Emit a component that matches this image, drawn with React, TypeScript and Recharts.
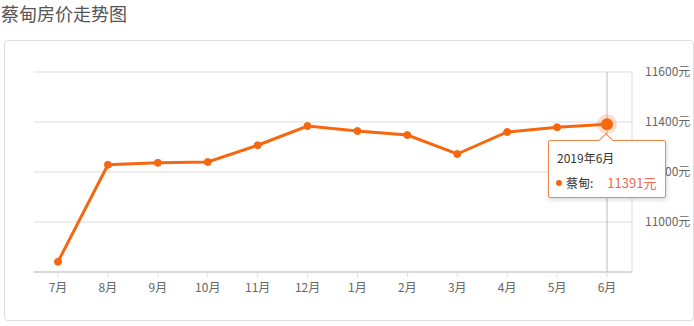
import { CartesianGrid, Line, LineChart, Tooltip, XAxis, YAxis } from "recharts";

const months = ["7月", "8月", "9月", "10月", "11月", "12月", "1月", "2月", "3月", "4月", "5月", "6月"];
const fullLabels = [
  "2018年7月", "2018年8月", "2018年9月", "2018年10月", "2018年11月", "2018年12月",
  "2019年1月", "2019年2月", "2019年3月", "2019年4月", "2019年5月", "2019年6月",
];
const prices = [10841, 11229, 11237, 11240, 11307, 11384, 11364, 11348, 11272, 11360, 11379, 11391];
const yTicks = [11000, 11200, 11400, 11600];

const data = months.map((m, i) => ({ month: m, full: fullLabels[i], price: prices[i] }));

const FONT = '"Microsoft YaHei", "Noto Sans CJK SC", sans-serif';
const ORANGE = "#f5680f";

function PriceTip({ payload }: any) {
  if (!payload || !payload.length) return null;
  const p = payload[0];
  return (
    <div style={{ position: "relative", width: 116, height: 56, background: "#fff", border: "1px solid #f0894a", borderRadius: 2, boxShadow: "1px 2px 4px rgba(0,0,0,0.15)", fontFamily: FONT, boxSizing: "content-box" }}>
      <div style={{ position: "absolute", left: 52, top: -6, width: 9, height: 9, background: "#fff", borderLeft: "1px solid #f0894a", borderTop: "1px solid #f0894a", transform: "rotate(45deg)" }} />
      <div style={{ position: "absolute", left: 8, top: 8, fontSize: 12, color: "#333" }}>{p.payload.full}</div>
      <div style={{ position: "absolute", left: 7, top: 32, fontSize: 12, color: "#333", display: "flex", alignItems: "center" }}>
        <span style={{ display: "inline-block", width: 6, height: 6, borderRadius: 3, background: ORANGE, marginRight: 4 }} />
        <span>蔡甸:</span>
        <span style={{ marginLeft: 14, fontSize: 13, color: "#ef6a4c" }}>{p.value}元</span>
      </div>
    </div>
  );
}

function ActiveDot(props: any) {
  const { cx, cy } = props;
  return (
    <g>
      <circle cx={cx} cy={cy} r={10} fill={ORANGE} fillOpacity={0.22} />
      <circle cx={cx} cy={cy} r={6} fill={ORANGE} />
    </g>
  );
}

export default function App() {
  return (
    <div style={{ position: "absolute", left: 0, top: 0, width: 694, height: 326, background: "#fff", fontFamily: FONT }}>
      <div style={{ position: "absolute", left: 1, top: 1, fontSize: 18, color: "#555", lineHeight: "24px" }}>蔡甸房价走势图</div>
      <div style={{ position: "absolute", left: 4, top: 40, width: 690, height: 281, border: "1px solid #ddd", borderRadius: 4, boxSizing: "border-box" }} />
      <div style={{ position: "absolute", left: 0, top: 0 }}>
        <LineChart width={694} height={326} data={data} margin={{ top: 72, right: 2, bottom: 0, left: 34 }}>
          <CartesianGrid horizontal vertical={false} stroke="#ddd" />
          <XAxis
            dataKey="month"
            height={54}
            padding={{ left: 24, right: 25 }}
            axisLine={{ stroke: "#d9d9d9", strokeWidth: 2 }}
            tickLine={{ stroke: "#ddd" }}
            tickSize={5}
            tickMargin={6}
            tick={{ fill: "#666", fontSize: 12, fontFamily: FONT }}
            interval={0}
          />
          <YAxis
            orientation="right"
            domain={[10800, 11600]}
            ticks={yTicks}
            width={60}
            axisLine={{ stroke: "#ddd" }}
            tickLine={false}
            tickSize={0}
            tickMargin={13}
            tickFormatter={(v: number) => `${v}元`}
            tick={{ fill: "#666", fontSize: 12, fontFamily: FONT }}
          />
          <Tooltip
            active
            defaultIndex={11}
            position={{ x: 548, y: 140 }}
            cursor={{ stroke: "#bbb", strokeWidth: 1 }}
            content={<PriceTip />}
            isAnimationActive={false}
            wrapperStyle={{ outline: "none" }}
          />
          <Line
            type="linear"
            dataKey="price"
            stroke={ORANGE}
            strokeWidth={3}
            dot={{ r: 3.5, fill: ORANGE, stroke: ORANGE, strokeWidth: 1 }}
            activeDot={<ActiveDot />}
            isAnimationActive={false}
          />
        </LineChart>
      </div>
    </div>
  );
}
